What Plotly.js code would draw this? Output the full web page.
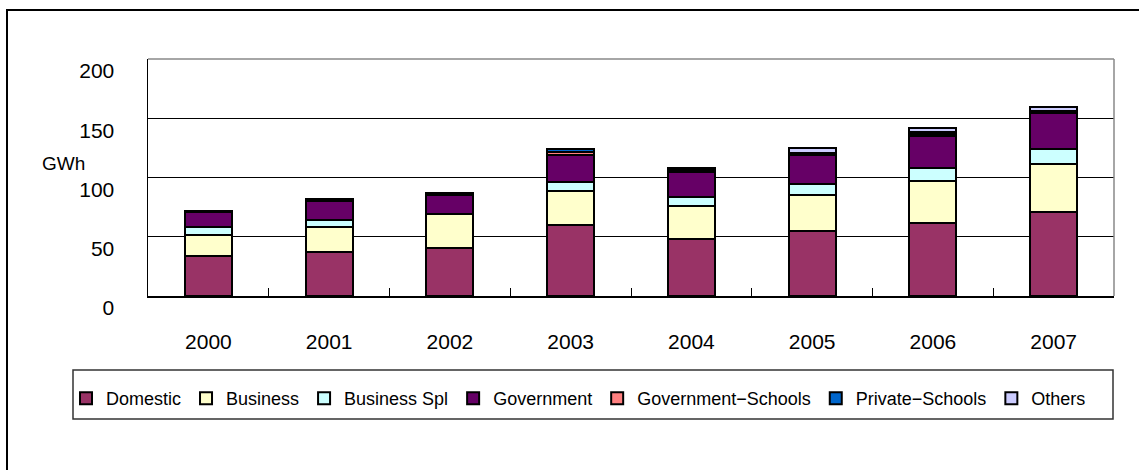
<!DOCTYPE html>
<html>
<head>
<meta charset="utf-8">
<script src="https://cdn.plot.ly/plotly-3.0.1.min.js"></script>
<style>html,body{margin:0;padding:0;background:#fff;}#chart{width:1139px;height:470px;}</style>
</head>
<body>
<div id="chart"></div>
<script>
const years = ['2000','2001','2002','2003','2004','2005','2006','2007'];
const domestic      = [33.6, 37.0, 40.2, 59.9, 48.1, 54.8, 61.6, 70.9];
const business      = [17.6, 21.0, 28.8, 28.8, 27.9, 30.5, 35.4, 40.4];
const businessSpl   = [6.8, 6.2, 0, 7.9, 7.9, 9.6, 11.2, 13.0];
const government    = [12.7, 16.3, 16.1, 22.6, 20.7, 24.3, 27.1, 30.5];
const govSchools    = [0.7, 0.9, 1.0, 2.4, 1.6, 0.9, 1.6, 0.9];
const privSchools   = [0.6, 0.8, 0.9, 2.2, 1.5, 0.8, 1.6, 0.8];
const others        = [0, 0, 0, 0, 0, 4.4, 3.0, 2.7];
const yTicks = [0, 50, 100, 150, 200];

const seriesList = [
  ['Domestic', domestic, '#993366'],
  ['Business', business, '#FFFFCC'],
  ['Business Spl', businessSpl, '#CCFFFF'],
  ['Government', government, '#660066'],
  ['Government\u2212Schools', govSchools, '#FF8080'],
  ['Private\u2212Schools', privSchools, '#0066CC'],
  ['Others', others, '#CCCCFF']
];

const traces = seriesList.map(s => ({
  type: 'bar', name: s[0], x: years, y: s[1],
  marker: {color: s[2], line: {color: '#000', width: 2}},
  hoverinfo: 'skip'
}));

// pixel helpers for paper coords (plot area: x 148..1114, y 59..296)
const L = 148, R = 1114, T = 59, B = 296;
const px = x => (x - L) / (R - L);
const py = y => (B - y) / (B - T);

const layout = {
  width: 1139, height: 470,
  margin: {l: L, r: 1139 - R, t: T, b: 470 - B, pad: 0},
  paper_bgcolor: '#fff', plot_bgcolor: '#fff',
  barmode: 'stack', bargap: 0.61,
  font: {family: 'Liberation Sans, Arial, sans-serif', size: 21, color: '#000'},
  showlegend: true,
  legend: {
    orientation: 'h', traceorder: 'normal',
    x: px(66), xanchor: 'left', y: py(380), yanchor: 'top',
    font: {size: 18}, bgcolor: 'rgba(0,0,0,0)', borderwidth: 0,
    itemwidth: 30, tracegroupgap: 0
  },
  xaxis: {
    type: 'category', showline: true, linecolor: '#000', linewidth: 1.5,
    ticks: 'inside', tickson: 'boundaries', ticklen: 8, tickcolor: '#000', tickwidth: 1,
    ticklabelstandoff: 26, showgrid: false, fixedrange: true
  },
  yaxis: {
    range: [0, 200], tickvals: yTicks, ticktext: yTicks.map(String),
    showline: true, linecolor: '#000', linewidth: 1.5,
    ticks: 'inside', ticklen: 8, tickcolor: '#000',
    showgrid: true, gridcolor: '#000', gridwidth: 1, zeroline: false,
    ticklabelstandoff: 28, ticklabelshift: 12, fixedrange: true
  },
  annotations: [{
    text: 'GWh', xref: 'paper', yref: 'paper', x: px(40), y: py(163),
    xanchor: 'left', yanchor: 'middle', showarrow: false, font: {size: 19}
  }],
  shapes: [
    {type: 'rect', xref: 'paper', yref: 'paper', x0: px(7), x1: px(1200), y0: py(520), y1: py(10),
     line: {color: '#000', width: 2}, layer: 'below'},
    {type: 'line', xref: 'paper', yref: 'paper', x0: 0, x1: 1, y0: 1, y1: 1,
     line: {color: '#888', width: 1.5}, layer: 'above'},
    {type: 'line', xref: 'paper', yref: 'paper', x0: 1, x1: 1, y0: 0, y1: 1,
     line: {color: '#888', width: 1.5}, layer: 'above'},
    {type: 'rect', xref: 'paper', yref: 'paper', x0: px(73), x1: px(1113), y0: py(419), y1: py(370),
     line: {color: '#333', width: 1.5}, layer: 'below'}
  ]
};

Plotly.newPlot('chart', traces, layout, {displayModeBar: false, staticPlot: true});
</script>
</body>
</html>
